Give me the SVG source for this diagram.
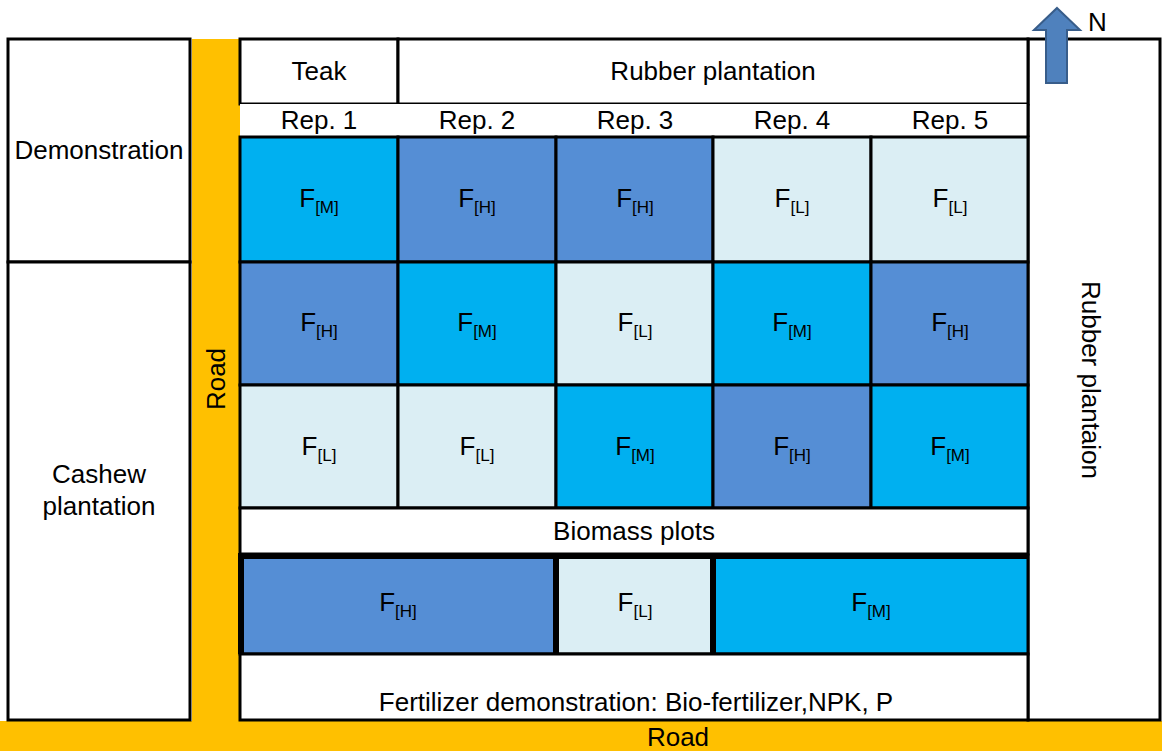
<svg xmlns="http://www.w3.org/2000/svg" width="1162" height="751" viewBox="0 0 1162 751">
<style>
text{font-family:"Liberation Sans",Arial,sans-serif;font-size:26px;fill:#000;text-anchor:middle}
.box{fill:#fff;stroke:#000;stroke-width:3}
.H{fill:#558ed5;stroke:#000;stroke-width:3}
.M{fill:#00b0f0;stroke:#000;stroke-width:3}
.L{fill:#dbeef4;stroke:#000;stroke-width:3}
.road{fill:#ffc000}
.sub{font-size:17px}
.thick{stroke:#000;stroke-width:6;fill:none}
</style>
<rect width="1162" height="751" fill="#fff"/>
<g id="roads">
<rect class="road" x="192" y="39" width="48" height="683"/>
<rect class="road" x="0" y="721" width="1162" height="30"/>
<text x="678" y="746">Road</text>
<text transform="translate(225,379) rotate(-90)">Road</text>
</g>
<g id="demonstration"><rect class="box" x="8" y="39" width="182" height="223"/><text x="99" y="159">Demonstration</text></g>
<g id="cashew"><rect class="box" x="8" y="262" width="182" height="458"/><text x="99" y="483">Cashew</text><text x="99" y="515">plantation</text></g>
<g id="rubber-east"><rect class="box" x="1028" y="39" width="132" height="681"/><text transform="translate(1082,380) rotate(90)">Rubber plantaion</text></g>
<g id="teak"><rect class="box" x="240" y="39" width="158" height="65"/><text x="319" y="80">Teak</text></g>
<g id="rubber-north"><rect class="box" x="398" y="39" width="630" height="65"/><text x="713" y="80">Rubber plantation</text></g>
<g id="reps">
<rect x="240" y="104" width="788" height="33" fill="#fff"/>
<line x1="1028" y1="104" x2="1028" y2="137" stroke="#000" stroke-width="3"/>
<text x="319" y="129">Rep. 1</text><text x="477" y="129">Rep. 2</text><text x="635" y="129">Rep. 3</text><text x="792" y="129">Rep. 4</text><text x="950" y="129">Rep. 5</text>
</g>
<g id="grid">
<g id="r1c1"><rect class="M" x="240" y="137" width="158" height="125"/><text x="319" y="207">F<tspan class="sub" dy="6">[M]</tspan></text></g>
<g id="r1c2"><rect class="H" x="398" y="137" width="158" height="125"/><text x="477" y="207">F<tspan class="sub" dy="6">[H]</tspan></text></g>
<g id="r1c3"><rect class="H" x="556" y="137" width="157" height="125"/><text x="635" y="207">F<tspan class="sub" dy="6">[H]</tspan></text></g>
<g id="r1c4"><rect class="L" x="713" y="137" width="158" height="125"/><text x="792" y="207">F<tspan class="sub" dy="6">[L]</tspan></text></g>
<g id="r1c5"><rect class="L" x="871" y="137" width="157" height="125"/><text x="950" y="207">F<tspan class="sub" dy="6">[L]</tspan></text></g>
<g id="r2c1"><rect class="H" x="240" y="262" width="158" height="123"/><text x="319" y="331">F<tspan class="sub" dy="6">[H]</tspan></text></g>
<g id="r2c2"><rect class="M" x="398" y="262" width="158" height="123"/><text x="477" y="331">F<tspan class="sub" dy="6">[M]</tspan></text></g>
<g id="r2c3"><rect class="L" x="556" y="262" width="157" height="123"/><text x="635" y="331">F<tspan class="sub" dy="6">[L]</tspan></text></g>
<g id="r2c4"><rect class="M" x="713" y="262" width="158" height="123"/><text x="792" y="331">F<tspan class="sub" dy="6">[M]</tspan></text></g>
<g id="r2c5"><rect class="H" x="871" y="262" width="157" height="123"/><text x="950" y="331">F<tspan class="sub" dy="6">[H]</tspan></text></g>
<g id="r3c1"><rect class="L" x="240" y="385" width="158" height="123"/><text x="319" y="455">F<tspan class="sub" dy="6">[L]</tspan></text></g>
<g id="r3c2"><rect class="L" x="398" y="385" width="158" height="123"/><text x="477" y="455">F<tspan class="sub" dy="6">[L]</tspan></text></g>
<g id="r3c3"><rect class="M" x="556" y="385" width="157" height="123"/><text x="635" y="455">F<tspan class="sub" dy="6">[M]</tspan></text></g>
<g id="r3c4"><rect class="H" x="713" y="385" width="158" height="123"/><text x="792" y="455">F<tspan class="sub" dy="6">[H]</tspan></text></g>
<g id="r3c5"><rect class="M" x="871" y="385" width="157" height="123"/><text x="950" y="455">F<tspan class="sub" dy="6">[M]</tspan></text></g>
</g>
<g id="biomass"><rect class="box" x="240" y="508" width="788" height="46"/><text x="634" y="540">Biomass plots</text></g>
<g id="bottom-plots">
<rect class="H" x="240" y="555" width="316" height="99"/>
<rect class="L" x="556" y="555" width="157" height="99"/>
<rect class="M" x="713" y="555" width="315" height="99"/>
<path class="thick" d="M241 654 V556 H1028 M556 556 V654 M713 556 V654"/>
<text x="398" y="611">F<tspan class="sub" dy="6">[H]</tspan></text>
<text x="635" y="611">F<tspan class="sub" dy="6">[L]</tspan></text>
<text x="871" y="611">F<tspan class="sub" dy="6">[M]</tspan></text>
</g>
<g id="fertilizer-demo"><rect class="box" x="240" y="654" width="788" height="66"/><text x="636" y="711">Fertilizer demonstration: Bio-fertilizer,NPK, P</text></g>
<g id="north">
<polygon points="1057,8 1080,30 1067,30 1067,83 1046,83 1046,30 1034,30" fill="#4f81bd" stroke="#385d8a" stroke-width="2"/>
<text x="1088" y="31" style="text-anchor:start">N</text>
</g>
</svg>
